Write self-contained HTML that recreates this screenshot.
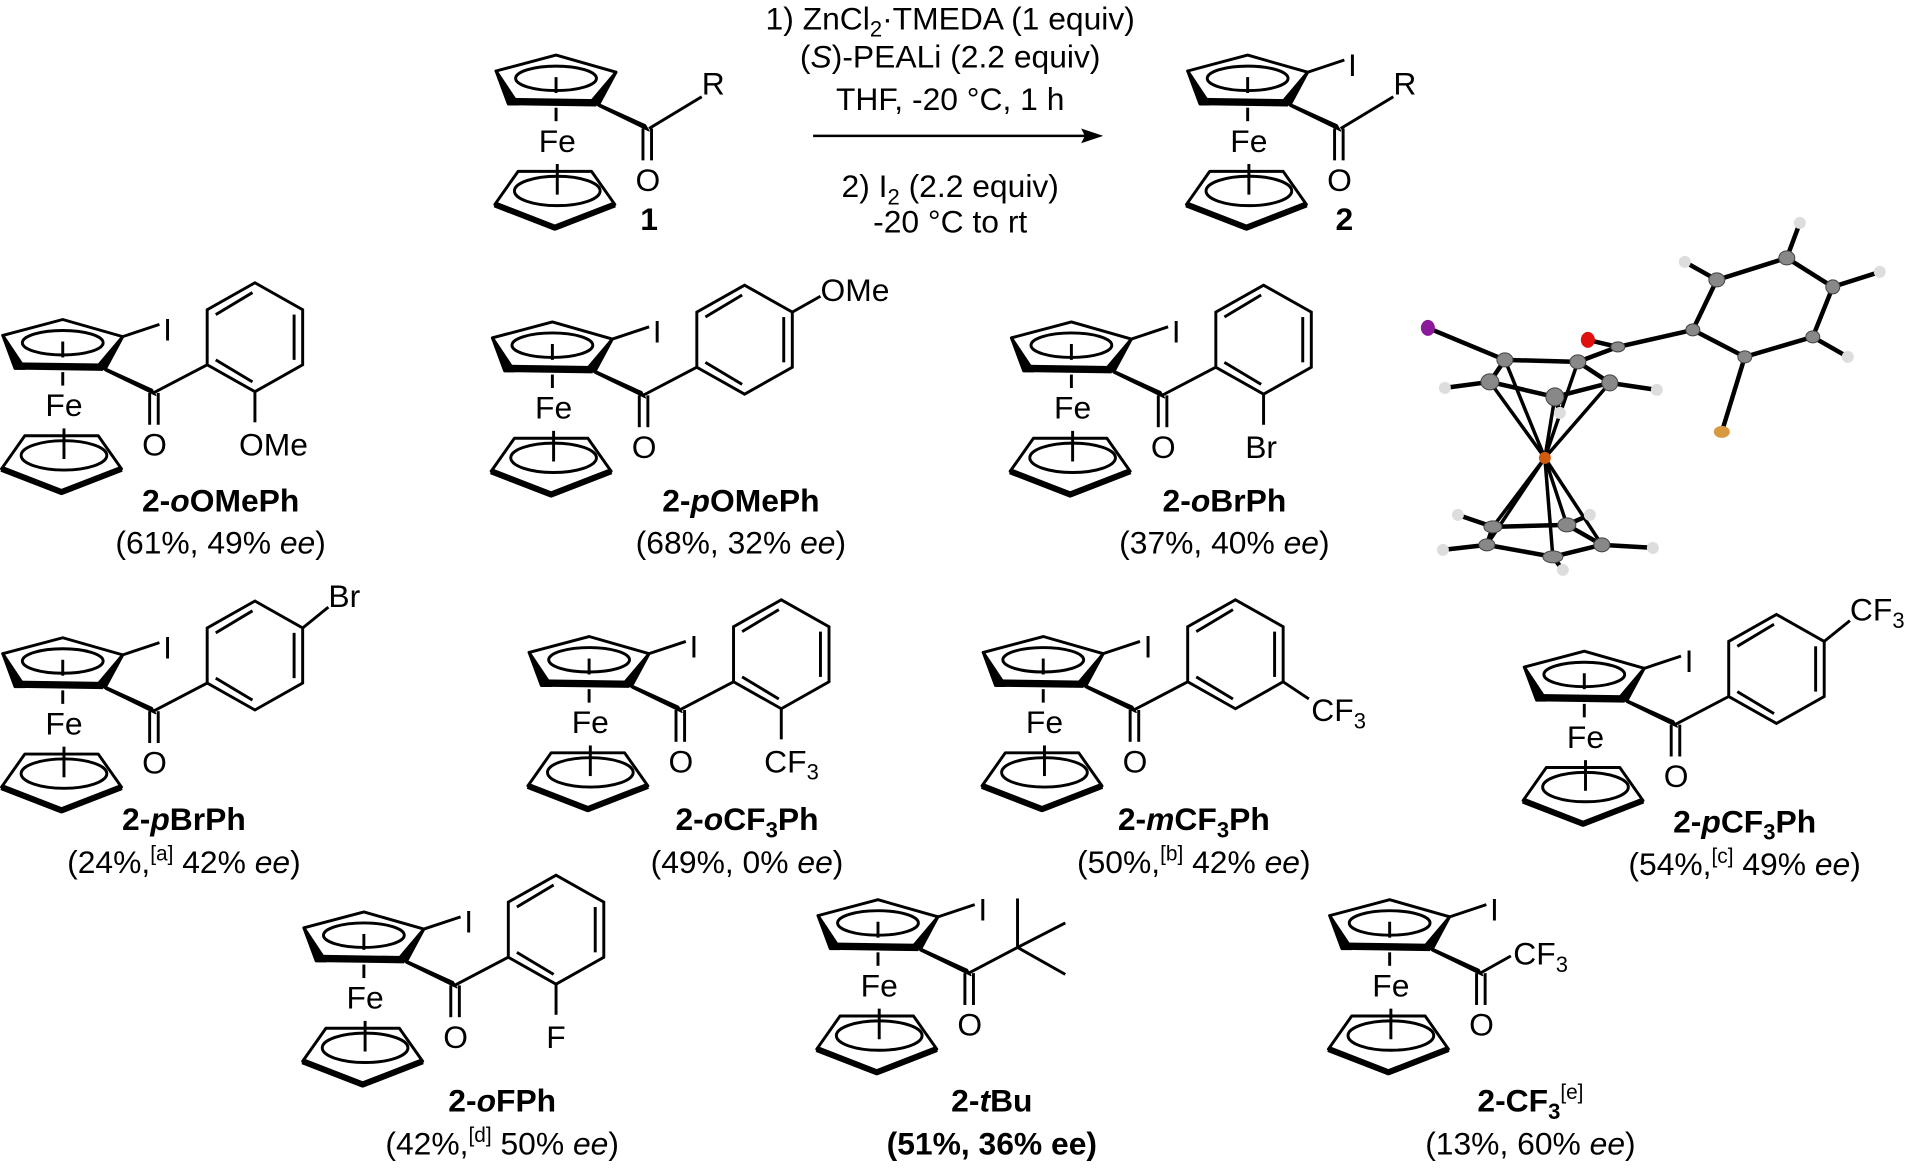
<!DOCTYPE html>
<html><head><meta charset="utf-8"><style>
html,body{margin:0;padding:0;background:#fff;width:1920px;height:1169px;overflow:hidden}
svg{display:block}
text{font-family:"Liberation Sans",Arial,sans-serif;font-size:26px;fill:#000}
.b{font-weight:bold}
.c{text-anchor:middle}
</style></head><body>
<svg width="1920" height="1169" viewBox="0 0 1568 955" xmlns="http://www.w3.org/2000/svg">
<defs>
<g id="fc" stroke="#000" stroke-width="2.4" fill="none" stroke-linejoin="round">
  <polygon points="2,274 51,261 100,275 82,300 16,298"/>
  <polygon points="2,274 20,301 12,301" fill="#000"/>
  <line x1="14" y1="299" x2="84" y2="300" stroke-width="6"/>
  <polygon points="100,275 86,301 78,301" fill="#000"/>
  <ellipse cx="51" cy="280" rx="33" ry="10"/>
  <line x1="51" y1="279" x2="51" y2="292"/>
  <line x1="51" y1="304" x2="51" y2="315"/>
  <line x1="52" y1="350" x2="52" y2="375"/>
  <polygon points="20,356 80,356 99,383 50,402 1,383"/>
  <polyline points="1,383 50,402 99,383" stroke-width="5"/>
  <ellipse cx="52" cy="372" rx="35" ry="12"/>
  <polygon points="80,298 86,303 127,323 124,318" fill="#000" stroke-width="1"/>
  <line x1="122" y1="321" x2="122" y2="347"/>
  <line x1="129" y1="321" x2="129" y2="347"/>
</g>
<g id="fci">
  <use href="#fc"/>
  <line x1="100" y1="275" x2="130" y2="265" stroke="#000" stroke-width="2.4"/>
</g>
<g id="ring" stroke="#000" stroke-width="2.4" fill="none">
  <line x1="125" y1="321" x2="169" y2="298"/>
  <polygon points="169,298 169,253 208,231 247,253 247,298 208,320"/>
  <line x1="176" y1="257" x2="206" y2="239"/>
  <line x1="240" y1="257" x2="240" y2="294"/>
  <line x1="176" y1="294" x2="206" y2="312"/>
</g>
</defs>

<!-- reaction -->
<g transform="translate(403,-216)">
  <use href="#fc"/>
  <line x1="127" y1="321" x2="170" y2="295" stroke="#000" stroke-width="2.4"/>
  <text x="170" y="293">R</text>
  <text x="126" y="372" class="c">O</text>
  <text x="52" y="340" class="c">Fe</text>
</g>
<text x="530" y="188" class="b c">1</text>
<g transform="translate(968,-216)">
  <use href="#fci"/>
  <text x="133" y="278">I</text>
  <line x1="127" y1="321" x2="170" y2="295" stroke="#000" stroke-width="2.4"/>
  <text x="170" y="293">R</text>
  <text x="126" y="372" class="c">O</text>
  <text x="52" y="340" class="c">Fe</text>
</g>
<text x="1098" y="188" class="b c">2</text>
<text x="776" y="24" class="c">1) ZnCl<tspan font-size="18" dy="6">2</tspan><tspan dy="-6">·TMEDA (1 equiv)</tspan></text>
<text x="776" y="55" class="c">(<tspan font-style="italic">S</tspan>)-PEALi (2.2 equiv)</text>
<text x="776" y="90" class="c">THF, -20 °C, 1 h</text>
<line x1="664" y1="111" x2="890" y2="111" stroke="#000" stroke-width="2"/>
<polygon points="901,111 883,105 886,111 883,117" fill="#000"/>
<text x="776" y="161" class="c">2) I<tspan font-size="18" dy="6">2</tspan><tspan dy="-6"> (2.2 equiv)</tspan></text>
<text x="776" y="190" class="c">-20 °C to rt</text>

<!-- row 1 -->
<g>
  <use href="#fci"/><use href="#ring"/>
  <text x="133" y="278">I</text><text x="126" y="372" class="c">O</text><text x="52" y="340" class="c">Fe</text>
  <line x1="208" y1="320" x2="208" y2="345" stroke="#000" stroke-width="2.4"/>
  <text x="195" y="372">OMe</text>
</g>
<text x="180" y="418" class="b c">2-<tspan font-style="italic">o</tspan>OMePh</text>
<text x="180" y="452" class="c">(61%, 49% <tspan font-style="italic">ee</tspan>)</text>

<g transform="translate(400,2)">
  <use href="#fci"/><use href="#ring"/>
  <text x="133" y="278">I</text><text x="126" y="372" class="c">O</text><text x="52" y="340" class="c">Fe</text>
  <line x1="247" y1="253" x2="270" y2="240" stroke="#000" stroke-width="2.4"/>
  <text x="270" y="244">OMe</text>
</g>
<text x="605" y="418" class="b c">2-<tspan font-style="italic">p</tspan>OMePh</text>
<text x="605" y="452" class="c">(68%, 32% <tspan font-style="italic">ee</tspan>)</text>

<g transform="translate(824,2)">
  <use href="#fci"/><use href="#ring"/>
  <text x="133" y="278">I</text><text x="126" y="372" class="c">O</text><text x="52" y="340" class="c">Fe</text>
  <line x1="208" y1="320" x2="208" y2="345" stroke="#000" stroke-width="2.4"/>
  <text x="193" y="372">Br</text>
</g>
<text x="1000" y="418" class="b c">2-<tspan font-style="italic">o</tspan>BrPh</text>
<text x="1000" y="452" class="c">(37%, 40% <tspan font-style="italic">ee</tspan>)</text>

<!-- crystal structure -->
<g transform="scale(0.8167)" stroke="#000" stroke-width="4.5" fill="none">
  <g>
  <line x1="1428" y1="328" x2="1505" y2="360"/>
  <polyline points="1505,360 1578,362 1610,383 1555,397 1490,382 1505,360"/>
  <line x1="1578" y1="362" x2="1618" y2="347"/><line x1="1588" y1="340" x2="1618" y2="347"/>
  <line x1="1618" y1="347" x2="1693" y2="330"/>
  <polygon points="1693,330 1717,280 1787,258 1833,287 1813,337 1745,357"/>
  <line x1="1745" y1="357" x2="1722" y2="432"/>
  <line x1="1717" y1="280" x2="1685" y2="262"/><line x1="1787" y1="258" x2="1800" y2="223"/>
  <line x1="1833" y1="287" x2="1880" y2="272"/><line x1="1813" y1="337" x2="1848" y2="357"/>
  <line x1="1490" y1="382" x2="1445" y2="388"/><line x1="1610" y1="383" x2="1657" y2="390"/><line x1="1555" y1="397" x2="1560" y2="413"/>
  <polyline points="1493,527 1567,525 1602,545 1553,557 1487,545 1493,527"/>
  <line x1="1493" y1="527" x2="1458" y2="515"/><line x1="1567" y1="525" x2="1590" y2="515"/>
  <line x1="1602" y1="545" x2="1653" y2="548"/><line x1="1553" y1="557" x2="1563" y2="570"/><line x1="1487" y1="545" x2="1443" y2="550"/>
  <g stroke-width="3.5">
  <line x1="1545" y1="458" x2="1505" y2="360"/><line x1="1545" y1="458" x2="1578" y2="362"/><line x1="1545" y1="458" x2="1610" y2="383"/><line x1="1545" y1="458" x2="1555" y2="397"/><line x1="1545" y1="458" x2="1490" y2="382"/>
  <line x1="1545" y1="458" x2="1493" y2="527"/><line x1="1545" y1="458" x2="1567" y2="525"/><line x1="1545" y1="458" x2="1602" y2="545"/><line x1="1545" y1="458" x2="1553" y2="557"/><line x1="1545" y1="458" x2="1487" y2="545"/>
  </g>
  </g>
  <g stroke="#444" stroke-width="1" fill="#888">
  <ellipse cx="1505" cy="360" rx="8" ry="7"/><ellipse cx="1578" cy="362" rx="8" ry="7"/><ellipse cx="1610" cy="383" rx="8" ry="8"/><ellipse cx="1555" cy="397" rx="9" ry="9"/><ellipse cx="1490" cy="382" rx="9" ry="8"/>
  <ellipse cx="1618" cy="347" rx="7" ry="5"/><ellipse cx="1693" cy="330" rx="7" ry="6"/><ellipse cx="1717" cy="280" rx="8" ry="7"/><ellipse cx="1787" cy="258" rx="8" ry="7"/><ellipse cx="1833" cy="287" rx="7" ry="7"/><ellipse cx="1813" cy="337" rx="7" ry="6"/><ellipse cx="1745" cy="357" rx="7" ry="6"/>
  <ellipse cx="1493" cy="527" rx="9" ry="6"/><ellipse cx="1567" cy="525" rx="9" ry="7"/><ellipse cx="1602" cy="545" rx="8" ry="7"/><ellipse cx="1553" cy="557" rx="10" ry="6"/><ellipse cx="1487" cy="545" rx="8" ry="6"/>
  </g>
  <g stroke="none" fill="#ddd">
  <circle cx="1685" cy="262" r="6"/><circle cx="1800" cy="223" r="6"/><circle cx="1880" cy="272" r="6"/><circle cx="1848" cy="357" r="6"/><circle cx="1445" cy="388" r="6"/><circle cx="1657" cy="390" r="6"/><circle cx="1560" cy="413" r="6"/>
  <circle cx="1458" cy="515" r="6"/><circle cx="1590" cy="515" r="6"/><circle cx="1653" cy="548" r="6"/><circle cx="1563" cy="570" r="6"/><circle cx="1443" cy="550" r="6"/>
  </g>
  <ellipse cx="1428" cy="328" rx="7" ry="8" fill="#8a1a9a" stroke="none"/>
  <ellipse cx="1588" cy="340" rx="7" ry="8" fill="#e01010" stroke="none"/>
  <ellipse cx="1722" cy="432" rx="8" ry="6" fill="#d89a40" stroke="none"/>
  <circle cx="1545" cy="458" r="6" fill="#d05a10" stroke="none"/>
</g>

<!-- row 2 -->
<g transform="translate(0,260)">
  <use href="#fci"/><use href="#ring"/>
  <text x="133" y="278">I</text><text x="126" y="372" class="c">O</text><text x="52" y="340" class="c">Fe</text>
  <line x1="247" y1="253" x2="268" y2="236" stroke="#000" stroke-width="2.4"/>
  <text x="268" y="236">Br</text>
</g>
<text x="150" y="678" class="b c">2-<tspan font-style="italic">p</tspan>BrPh</text>
<text x="150" y="713" class="c">(24%,<tspan font-size="17" dy="-10">[a]</tspan><tspan dy="10"> 42% </tspan><tspan font-style="italic">ee</tspan>)</text>

<g transform="translate(430,259)">
  <use href="#fci"/><use href="#ring"/>
  <text x="133" y="278">I</text><text x="126" y="372" class="c">O</text><text x="52" y="340" class="c">Fe</text>
  <line x1="208" y1="320" x2="208" y2="345" stroke="#000" stroke-width="2.4"/>
  <text x="194" y="372">CF<tspan font-size="18" dy="6">3</tspan></text>
</g>
<text x="610" y="678" class="b c">2-<tspan font-style="italic">o</tspan>CF<tspan font-size="18" dy="6">3</tspan><tspan dy="-6">Ph</tspan></text>
<text x="610" y="713" class="c">(49%, 0% <tspan font-style="italic">ee</tspan>)</text>

<g transform="translate(801,259)">
  <use href="#fci"/><use href="#ring"/>
  <text x="133" y="278">I</text><text x="126" y="372" class="c">O</text><text x="52" y="340" class="c">Fe</text>
  <line x1="247" y1="298" x2="268" y2="312" stroke="#000" stroke-width="2.4"/>
  <text x="270" y="330">CF<tspan font-size="18" dy="6">3</tspan></text>
</g>
<text x="975" y="678" class="b c">2-<tspan font-style="italic">m</tspan>CF<tspan font-size="18" dy="6">3</tspan><tspan dy="-6">Ph</tspan></text>
<text x="975" y="713" class="c">(50%,<tspan font-size="17" dy="-10">[b]</tspan><tspan dy="10"> 42% </tspan><tspan font-style="italic">ee</tspan>)</text>

<g transform="translate(1243,271)">
  <use href="#fci"/><use href="#ring"/>
  <text x="133" y="278">I</text><text x="126" y="372" class="c">O</text><text x="52" y="340" class="c">Fe</text>
  <line x1="247" y1="253" x2="268" y2="236" stroke="#000" stroke-width="2.4"/>
  <text x="268" y="236">CF<tspan font-size="18" dy="6">3</tspan></text>
</g>
<text x="1425" y="680" class="b c">2-<tspan font-style="italic">p</tspan>CF<tspan font-size="18" dy="6">3</tspan><tspan dy="-6">Ph</tspan></text>
<text x="1425" y="715" class="c">(54%,<tspan font-size="17" dy="-10">[c]</tspan><tspan dy="10"> 49% </tspan><tspan font-style="italic">ee</tspan>)</text>

<!-- row 3 -->
<g transform="translate(246,484)">
  <use href="#fci"/><use href="#ring"/>
  <text x="133" y="278">I</text><text x="126" y="372" class="c">O</text><text x="52" y="340" class="c">Fe</text>
  <line x1="208" y1="320" x2="208" y2="345" stroke="#000" stroke-width="2.4"/>
  <text x="200" y="372">F</text>
</g>
<text x="410" y="908" class="b c">2-<tspan font-style="italic">o</tspan>FPh</text>
<text x="410" y="943" class="c">(42%,<tspan font-size="17" dy="-10">[d]</tspan><tspan dy="10"> 50% </tspan><tspan font-style="italic">ee</tspan>)</text>

<g transform="translate(666,474)">
  <use href="#fci"/>
  <text x="133" y="278">I</text><text x="126" y="372" class="c">O</text><text x="52" y="340" class="c">Fe</text>
  <g stroke="#000" stroke-width="2.4">
  <line x1="125" y1="321" x2="165" y2="300"/>
  <line x1="165" y1="300" x2="165" y2="260"/>
  <line x1="165" y1="300" x2="204" y2="280"/>
  <line x1="165" y1="300" x2="204" y2="322"/>
  </g>
</g>
<text x="810" y="908" class="b c">2-<tspan font-style="italic">t</tspan>Bu</text>
<text x="810" y="943" class="b c">(51%, 36% ee)</text>

<g transform="translate(1084,474)">
  <use href="#fci"/>
  <text x="133" y="278">I</text><text x="126" y="372" class="c">O</text><text x="52" y="340" class="c">Fe</text>
  <line x1="125" y1="321" x2="150" y2="307" stroke="#000" stroke-width="2.4"/>
  <text x="152" y="314">CF<tspan font-size="18" dy="6">3</tspan></text>
</g>
<text x="1250" y="908" class="b c">2-CF<tspan font-size="18" dy="6">3</tspan><tspan font-size="17" font-weight="normal" dy="-16">[e]</tspan></text>
<text x="1250" y="943" class="c">(13%, 60% <tspan font-style="italic">ee</tspan>)</text>
</svg>
</body></html>
